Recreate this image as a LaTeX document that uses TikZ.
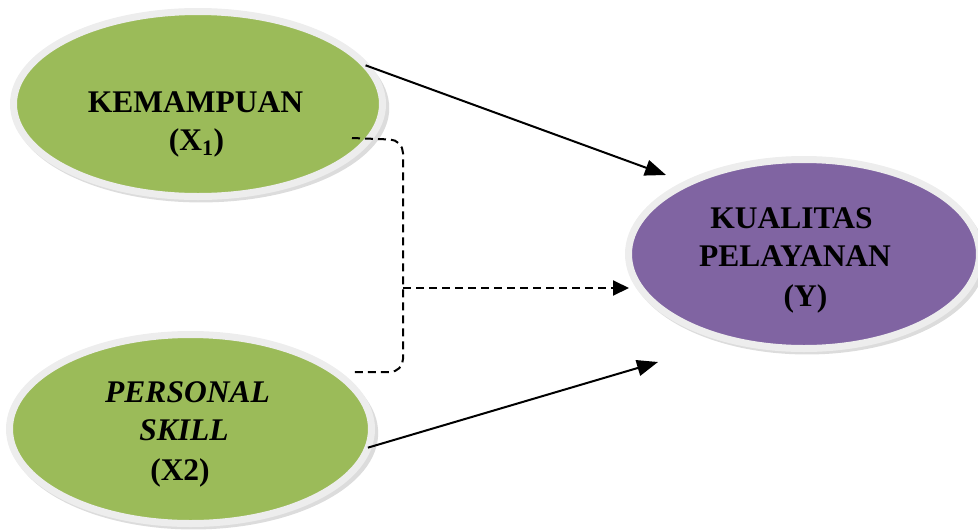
\documentclass[tikz,border=0pt]{standalone}
\usepackage{fontspec}
\setmainfont{Liberation Serif}
\usetikzlibrary{shapes.geometric,arrows.meta,shadows}
\definecolor{greenfill}{HTML}{9BBB59}
\definecolor{purplefill}{HTML}{8064A2}
\definecolor{ringc}{HTML}{EDEDED}
\begin{document}
\begin{tikzpicture}[x=1pt,y=-1pt,
  ell/.style={ellipse, inner sep=0pt, outer sep=0pt, draw=ringc, line width=7pt,
    drop shadow={shadow xshift=3pt, shadow yshift=-4pt, shadow scale=1.02, opacity=.3, fill=black!45}},
  lbl/.style={anchor=base, inner sep=0pt, font=\fontsize{31.5}{36}\selectfont\bfseries},
  ilbl/.style={lbl, font=\fontsize{31.5}{36}\selectfont\bfseries\itshape},
  arr/.style={line width=2pt, -{Triangle[length=21pt,width=16pt]}},
  dsh/.style={line width=2pt, dash pattern=on 8pt off 5pt},
  darr/.style={dsh, -{Triangle[length=16pt,width=15pt]}}
]
\useasboundingbox (0,0) rectangle (978,531);
% ellipses
\node[ell, fill=greenfill, minimum width=369pt, minimum height=185pt] (k) at (198,104) {};
\node[ell, fill=greenfill, minimum width=362pt, minimum height=189pt] (p) at (190.5,429) {};
\node[ell, fill=purplefill, minimum width=351pt, minimum height=189pt] (y) at (804,254) {};
% labels
\node[lbl] (k1) at (195.5,112) {KEMAMPUAN};
\node[lbl] (k2) at (196.5,150) {(X\textsubscript{1})};
\node[ilbl] (p1) at (187.5,402) {PERSONAL};
\node[ilbl] (p2) at (184,440) {SKILL};
\node[lbl] (p3) at (180,480) {(X2)};
\node[lbl] (y1) at (791.5,228) {KUALITAS};
\node[lbl] (y2) at (795,266) {PELAYANAN};
\node[lbl] (y3) at (805.5,306) {(Y)};
% connector end points
\coordinate (t1) at (666,175);
\coordinate (t2) at (658,362);
\coordinate (d1) at (352,138);
\coordinate (c1) at (403,140);
\coordinate (c2) at (403,372);
\coordinate (d2) at (352,372);
\coordinate (m) at (403,288);
\coordinate (t3) at (629,288);
% connectors
\draw[arr] (k.13) -- (t1);
\draw[arr] (p.-6) -- (t2);
\draw[dsh, rounded corners=13pt] (d1) -- (c1) -- (c2) -- (d2);
\draw[darr] (m) -- (t3);
\end{tikzpicture}
\end{document}
